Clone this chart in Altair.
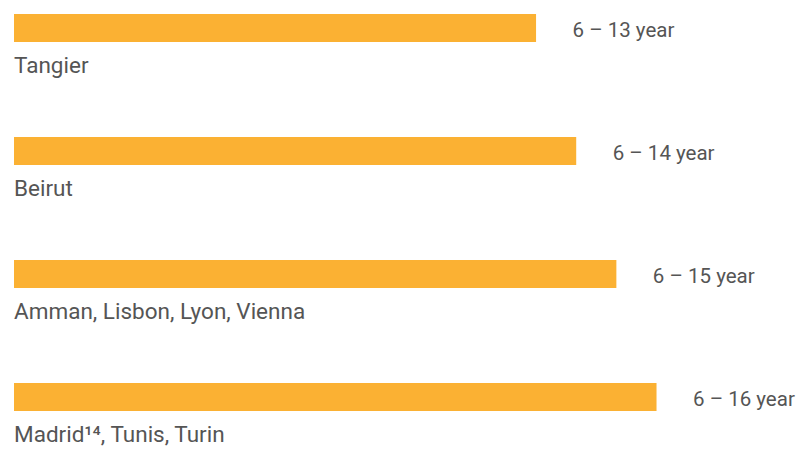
import altair as alt
import pandas as pd

cities = ["Tangier", "Beirut", "Amman, Lisbon, Lyon, Vienna", "Madrid¹⁴, Tunis, Turin"]
end_age = [13, 14, 15, 16]
labels = ["6 – 13 year", "6 – 14 year", "6 – 15 year", "6 – 16 year"]

df = pd.DataFrame({"city": cities, "end": end_age, "label": labels})

FONT = "Roboto"
TXT = "#555555"
BAR = "#FBB133"

x = alt.X("end:Q", axis=None, scale=alt.Scale(domain=[0, 19], nice=False, zero=True))
y_scale = alt.Scale(paddingInner=0, paddingOuter=0)

bars = alt.Chart(df).mark_bar(color=BAR, size=28, yOffset=-47.5).encode(
    x=x,
    y=alt.Y("city:N", sort=None, axis=None, scale=y_scale),
)

values = alt.Chart(df).mark_text(
    align="left", baseline="alphabetic", dx=36.5, yOffset=23,
    font=FONT, fontSize=20.5, color=TXT,
).encode(
    x=x,
    y=alt.Y("city:N", sort=None, axis=None, scale=y_scale, bandPosition=0),
    text="label:N",
)

names = alt.Chart(df).mark_text(
    align="left", baseline="alphabetic", yOffset=58.7,
    font=FONT, fontSize=22.5, color=TXT,
).encode(
    x=alt.value(0),
    y=alt.Y("city:N", sort=None, axis=None, scale=y_scale, bandPosition=0),
    text="city:N",
)

chart = alt.layer(bars, values, names).properties(
    width=763,
    height=alt.Step(123),
    padding={"left": 6, "top": 6, "right": 19, "bottom": 0},
    autosize=alt.AutoSizeParams(type="none"),
    background="white",
).configure_view(stroke=None, strokeWidth=0)

chart.save("out.html", embed_options={"renderer": "svg", "actions": False})
